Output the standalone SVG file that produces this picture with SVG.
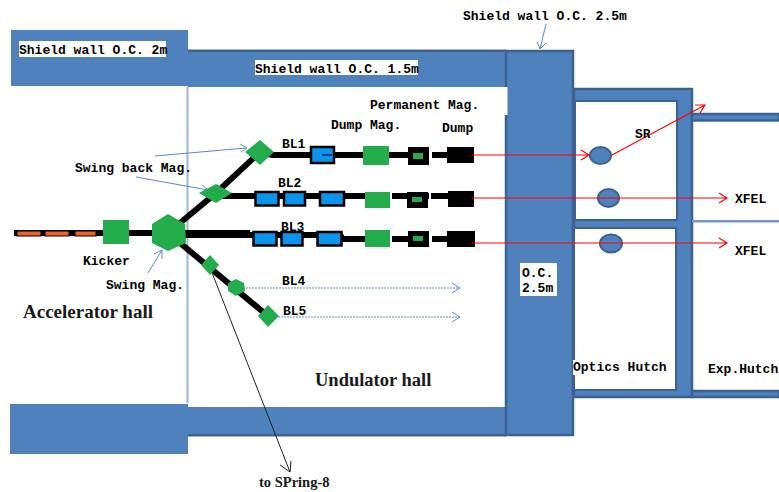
<svg xmlns="http://www.w3.org/2000/svg" width="779" height="492" viewBox="0 0 779 492">
<style>
.t{font-family:"Liberation Mono","DejaVu Sans Mono",monospace;font-size:13px;font-weight:bold;fill:#000}
.s{font-family:"Liberation Serif","Times New Roman",serif;font-weight:bold;fill:#1a1a1a}
.wall{fill:#4f81bd}
.edge{fill:#4f81bd;stroke:#3b6292;stroke-width:2.5}
.beam{stroke:#000;stroke-width:6;fill:none}
.g{fill:#22ac4b}
.b{fill:#0a94ee;stroke:#000;stroke-width:2.5}
.o{fill:#f0602a;stroke:#000;stroke-width:1}
.k{fill:#000}
.r{stroke:#f00;stroke-width:1.2;fill:none}
.bl{stroke:#5b8ac6;stroke-width:1;fill:none}
.d{stroke:#5b8ac6;stroke-width:1;stroke-dasharray:2 1;fill:none}
.lab{fill:#fff}
</style>
<g id="walls">
<rect x="574" y="89" width="118" height="308" class="edge"/>
<rect x="692" y="114" width="87" height="6.500" class="edge"/>
<rect x="692" y="391" width="87" height="6" class="edge"/>
<rect x="692" y="220" width="87" height="2.500" fill="#6f97c9"/>
<rect x="575" y="101" width="102" height="119" fill="#fff" stroke="#3b6292" stroke-width="2"/>
<rect x="574" y="228" width="102" height="162" fill="#fff" stroke="#3b6292" stroke-width="2"/>
<rect x="188" y="50" width="318" height="37" class="wall"/>
<rect x="188" y="49.500" width="318" height="2.500" fill="#3b6292"/>
<rect x="11" y="30" width="177" height="56" class="wall"/>
<rect x="10" y="404" width="178" height="50" class="wall"/>
<rect x="188" y="407" width="318" height="29" class="wall"/>
<rect x="188" y="434" width="318" height="2.500" fill="#3b6292"/>
<rect x="506" y="51" width="67" height="384" class="edge"/>
<rect x="500" y="87" width="7.500" height="28" fill="#fff"/>
<rect x="186.500" y="87" width="2" height="316" fill="#9ab6da"/>
</g>
<g id="connectors">
<path class="beam" d="M14 233H160M168 233L216 193L260 152L272 155H473M216 196H473M168 235H340L343 239H473M168 233L268 316"/>
<path stroke="#000" stroke-width="6" fill="none" d="M185 233H250"/>
<path fill="#fff" d="M429 150h3v10h-3zM429 193h2v10h-2zM389 193h3v10h-3zM429 234h3v10h-3zM389 234h3v10h-3z"/>
<path class="bl" d="M155 156L246 148M240 144L247 148L241 152"/>
<path class="bl" d="M136 177L208 190M202 185L208 190L201 193"/>
<path class="bl" d="M148 273L162 250M154 254L162 250L162 259"/>
<path class="bl" d="M546 24L540 49M537 42L540 49L546 43"/>
<path class="d" d="M240 288H460"/><path class="bl" d="M452 283L460 288L452 293"/>
<path class="d" d="M272 317H460"/><path class="bl" d="M452 312L460 317L452 322"/>
<path d="M209 265L290 472M280 465L290 472L291 461" fill="none" stroke="#222" stroke-width="1"/>
</g>
<g id="linac">
<rect x="17" y="231" width="24" height="5" class="o"/><rect x="45" y="231" width="24" height="5" class="o"/><rect x="75" y="231" width="21" height="5" class="o"/>
</g>
<g id="kicker"><rect x="103" y="220" width="26" height="24" class="g"/></g>
<g id="swing"><polygon class="g" points="168,214 185,224 186,243 168,251 152,243 152,224"/></g>
<g id="swingback"><polygon class="g" points="216,184 232,193 216,203 199,193"/></g>
<g id="bl1">
<polygon class="g" points="260,140 274,152 260,165 245,152"/>
<rect x="311" y="147" width="23" height="16" class="b"/><path d="M322 155h10" stroke="#000" stroke-width="1"/>
<rect x="363" y="146" width="26" height="19" class="g"/>
<rect x="408" y="147" width="21" height="18" class="k"/><rect x="413" y="153" width="10" height="6" class="g"/>
<rect x="447" y="147" width="27" height="16" class="k"/>
</g>
<g id="bl2">
<rect x="255.500" y="192" width="23" height="13.500" class="b"/><rect x="284" y="192" width="21" height="13.500" class="b"/><rect x="320" y="192" width="24" height="13.500" class="b"/>
<rect x="365" y="192" width="25" height="16" class="g"/>
<rect x="407" y="192" width="21" height="16" class="k"/><rect x="412" y="197" width="10" height="5" class="g"/>
<rect x="448" y="191" width="26" height="16" class="k"/>
</g>
<g id="bl3">
<rect x="253.500" y="232" width="23" height="13.500" class="b"/><rect x="281.500" y="232" width="21" height="13.500" class="b"/><rect x="317.500" y="232" width="24" height="13.500" class="b"/>
<rect x="365" y="230" width="25" height="17" class="g"/>
<rect x="408" y="231" width="21" height="16" class="k"/><rect x="413" y="236" width="10" height="5" class="g"/>
<rect x="447" y="231" width="28" height="16" class="k"/>
</g>
<g id="bl45">
<polygon class="g" points="210,255 219,265 210,275 201,265"/>
<polygon class="g" points="236,279 244,283 245,291 236,296 228,291 228,283"/>
<polygon class="g" points="268,305 279,316 268,327 258,316"/>
</g>
<g id="mirrors">
<ellipse cx="600.500" cy="155.500" rx="10.500" ry="8.500" fill="#4f81bd" stroke="#3b6292" stroke-width="2"/>
<ellipse cx="608.500" cy="198" rx="10.500" ry="9" fill="#4f81bd" stroke="#3b6292" stroke-width="2"/>
<ellipse cx="611" cy="243.500" rx="11" ry="9" fill="#4f81bd" stroke="#3b6292" stroke-width="2"/>
</g>
<g id="rays">
<path class="r" d="M472 155H589M581 150L589 155L581 160"/>
<path class="r" d="M612 155L705 105M695 105L705 105L700 113"/>
<path class="r" d="M472 198H727M719 193L727 198L719 203"/>
<path class="r" d="M472 243H727M719 238L727 243L719 248"/>
</g>
<g id="labels">
<rect x="19" y="41" width="147" height="16" class="lab"/>
<text x="19" y="54" class="t">Shield wall O.C. 2m</text>
<rect x="255" y="60" width="163" height="15" class="lab"/>
<text x="255" y="73" class="t">Shield wall O.C. 1.5m</text>
<text x="463" y="20" class="t">Shield wall O.C. 2.5m</text>
<text x="370" y="109" class="t">Permanent Mag.</text>
<text x="331" y="129" class="t">Dump Mag.</text>
<text x="442" y="132" class="t">Dump</text>
<text x="282" y="148" class="t">BL1</text><text x="278" y="187" class="t">BL2</text><text x="281" y="231" class="t">BL3</text>
<text x="282" y="285" class="t">BL4</text><text x="283" y="315" class="t">BL5</text>
<text x="75" y="172" class="t">Swing back Mag.</text>
<text x="83" y="265" class="t">Kicker</text>
<text x="106" y="289" class="t">Swing Mag.</text>
<text x="635" y="138" class="t">SR</text>
<text x="735" y="203" class="t">XFEL</text><text x="735" y="255" class="t">XFEL</text>
<rect x="520" y="263" width="37" height="33" class="lab"/>
<text x="522" y="277" class="t">O.C.</text><text x="522" y="292" class="t">2.5m</text>
<rect x="573" y="360" width="95" height="15" class="lab"/>
<text x="573" y="371" class="t">Optics Hutch</text>
<text x="708" y="373" class="t">Exp.Hutch</text>
<text x="23" y="318" class="s" font-size="19">Accelerator hall</text>
<text x="315" y="386" class="s" font-size="18.500">Undulator hall</text>
<text x="259" y="487" class="s" font-size="14.500">to SPring-8</text>
</g>
</svg>
